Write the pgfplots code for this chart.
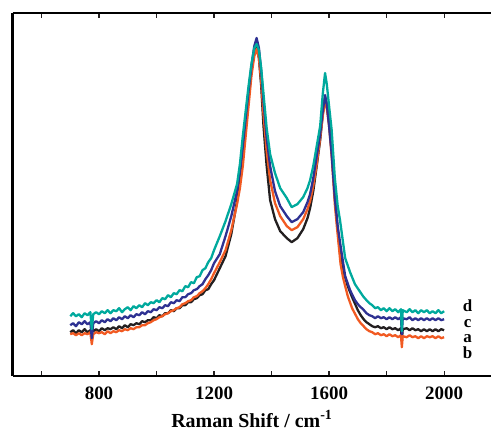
\documentclass[border=0pt]{standalone}
\usepackage{fontspec}
\setmainfont{Liberation Serif}
\usepackage{pgfplots}
\pgfplotsset{compat=1.18}
\usepackage{pgfplotstable}

\definecolor{ca}{HTML}{231F20}
\definecolor{cb}{HTML}{F15A22}
\definecolor{cc}{HTML}{2E3192}
\definecolor{cd}{HTML}{00A99D}

% sample a (black)
\pgfplotstableread{
w h
700 44
710 46
720 43
730 46
740 44
750 47
760 44
770 46
780 45
790 47
800 45
810 48
820 46
830 48
840 47
850 49
860 47
870 50
880 48
890 51
900 49
910 52
920 51
930 53
940 52
950 55
960 54
970 56
980 56
990 59
1000 58
1010 61
1020 60
1030 63
1040 63
1050 66
1060 65
1070 68
1080 68
1090 71
1100 71
1110 74
1120 74
1130 77
1140 78
1150 81
1160 82
1170 86
1180 87
1190 92
1200 96
1220 108
1240 120
1260 142
1280 175
1290 195
1300 220
1310 250
1320 278
1330 305
1340 324
1348 330
1356 318
1364 290
1372 250
1383 210
1395 176
1412 157
1430 145
1453 138
1470 134
1490 138
1510 147
1525 158
1534 168
1545 185
1557 210
1569 236
1578 262
1586 279
1592 272
1600 255
1609 225
1620 180
1627 156
1640 118
1649 106
1665 90
1680 79
1700 66
1710 61
1720 57
1730 54
1740 52
1750 50
1760 49
1770 50
1780 48
1790 49
1800 47
1810 49
1820 47
1830 48
1840 46
1850 48
1853 35
1856 47
1870 48
1880 46
1890 48
1900 46
1910 47
1920 45
1930 47
1940 45
1950 47
1960 45
1970 47
1980 45
1990 47
2000 46
}\dataA

% sample b (red)
\pgfplotstableread{
w h
700 42
710 43
720 41
730 43
740 41
750 43
760 42
770 44
775 32
780 42
790 44
800 43
810 44
820 42
830 45
840 43
850 45
860 44
870 46
880 45
890 47
900 46
910 48
920 47
930 49
940 49
950 51
960 51
970 53
980 54
990 56
1000 57
1010 59
1020 60
1030 62
1040 63
1050 65
1060 66
1070 68
1080 69
1090 72
1100 73
1110 75
1120 76
1130 79
1140 80
1150 83
1160 85
1170 88
1180 92
1190 97
1200 103
1220 114
1240 126
1260 146
1280 172
1290 188
1300 210
1310 240
1320 270
1330 300
1340 320
1348 327
1356 318
1364 295
1372 262
1383 225
1395 196
1412 173
1430 160
1453 150
1470 146
1490 149
1510 157
1525 167
1534 175
1545 190
1557 212
1569 238
1578 260
1586 276
1592 268
1600 250
1609 220
1620 172
1627 150
1640 112
1649 98
1665 80
1680 68
1700 57
1710 53
1720 50
1730 47
1740 45
1750 44
1760 42
1770 43
1780 41
1790 42
1800 40
1810 42
1820 40
1830 41
1840 39
1850 41
1853 29
1856 40
1870 39
1880 41
1890 39
1900 40
1910 38
1920 40
1930 38
1940 40
1950 39
1960 40
1970 38
1980 40
1990 38
2000 39
}\dataB

% sample c (blue)
\pgfplotstableread{
w h
700 51
710 53
720 50
730 54
740 52
750 55
760 52
770 54
775 38
780 53
790 55
800 53
810 56
820 54
830 57
840 55
850 58
860 56
870 59
880 57
890 60
900 58
910 61
920 59
930 62
940 61
950 64
960 62
970 65
980 64
990 67
1000 66
1010 69
1020 68
1030 71
1040 70
1050 74
1060 73
1070 76
1080 75
1090 79
1100 79
1110 82
1120 83
1130 86
1140 87
1150 90
1160 92
1170 97
1180 101
1190 106
1200 113
1220 122
1240 140
1260 160
1280 185
1290 205
1300 230
1310 258
1320 285
1330 310
1340 330
1348 338
1356 328
1364 305
1372 275
1383 238
1395 210
1412 185
1430 170
1453 160
1470 154
1490 157
1510 164
1525 174
1534 182
1545 198
1557 220
1569 242
1578 265
1586 281
1592 272
1600 250
1609 222
1620 178
1630 150
1638 134
1656 100
1673 86
1690 76
1700 72
1710 69
1718 67
1730 63
1740 61
1750 60
1760 58
1770 60
1780 58
1790 59
1800 57
1810 59
1820 57
1830 59
1840 57
1850 59
1853 42
1856 58
1870 57
1880 59
1890 56
1900 58
1910 56
1920 58
1930 56
1940 58
1950 56
1960 58
1970 56
1980 58
1990 56
2000 57
}\dataC

% sample d (teal)
\pgfplotstableread{
w h
700 60
710 63
720 60
730 62
740 59
750 63
760 61
770 64
775 47
780 62
790 64
800 62
810 65
820 63
830 66
840 63
850 66
860 65
870 68
880 64
890 67
900 69
910 66
920 70
930 68
940 71
950 69
960 73
970 71
980 74
990 73
1000 76
1010 74
1020 78
1030 77
1040 81
1050 79
1060 83
1070 82
1080 86
1090 85
1100 90
1110 89
1120 94
1130 93
1140 99
1150 100
1160 106
1170 108
1180 114
1190 118
1200 126
1220 140
1240 155
1260 172
1280 192
1290 212
1300 240
1310 265
1320 290
1330 312
1340 328
1348 332
1356 326
1364 308
1372 282
1383 248
1395 222
1412 203
1430 188
1453 178
1470 169
1490 172
1510 179
1525 188
1534 196
1545 210
1557 230
1569 250
1578 282
1586 303
1592 292
1600 270
1609 246
1620 198
1630 170
1638 156
1656 118
1673 104
1690 92
1718 80
1730 76
1740 73
1750 71
1760 68
1770 69
1780 66
1790 68
1800 65
1810 68
1820 65
1830 67
1840 64
1850 67
1853 45
1856 66
1870 64
1880 67
1890 64
1900 66
1910 63
1920 66
1930 64
1940 66
1950 63
1960 65
1970 63
1980 66
1990 63
2000 65
}\dataD

\begin{document}
\begin{tikzpicture}
\begin{axis}[
    scale only axis,
    width=478bp, height=363bp,
    xmin=500, xmax=2163,
    ymin=0, ymax=363,
    axis x line*=box,
    axis y line*=left,
    x axis line style={line width=2bp},
    y axis line style={line width=2.8bp},
    xtick={800,1200,1600,2000},
    minor xtick={600,1000,1400,1800},
    ytick=\empty,
    tick align=inside,
    major tick length=5bp,
    minor tick length=5bp,
    tick style={line width=1.2bp, color=ca},
    ticklabel style={font=\fontsize{19}{19}\selectfont\bfseries},
    xticklabel style={yshift=-7bp},
    /pgf/number format/assume math mode=true,
    /pgf/number format/1000 sep={},
    xlabel={Raman Shift / cm\textsuperscript{-1}},
    xlabel style={font=\fontsize{20}{20}\selectfont\bfseries, yshift=-4bp},
    every axis plot/.append style={line width=2.3bp, line join=round},
    clip=false,
]
\addplot[color=ca] table[x=w, y=h] {\dataA};
\addplot[color=cb] table[x=w, y=h] {\dataB};
\addplot[color=cc] table[x=w, y=h] {\dataC};
\addplot[color=cd] table[x=w, y=h] {\dataD};

% curve labels, top to bottom
\node[inner sep=0pt, align=center, font=\fontsize{17}{16}\selectfont\bfseries]
    at (axis cs:2082,47) {d\\c\\a\\b};

\path ([xshift=-12.7bp]rel axis cs:0,0);
\path ([yshift=13bp]rel axis cs:0,1);
\end{axis}
\end{tikzpicture}
\end{document}
